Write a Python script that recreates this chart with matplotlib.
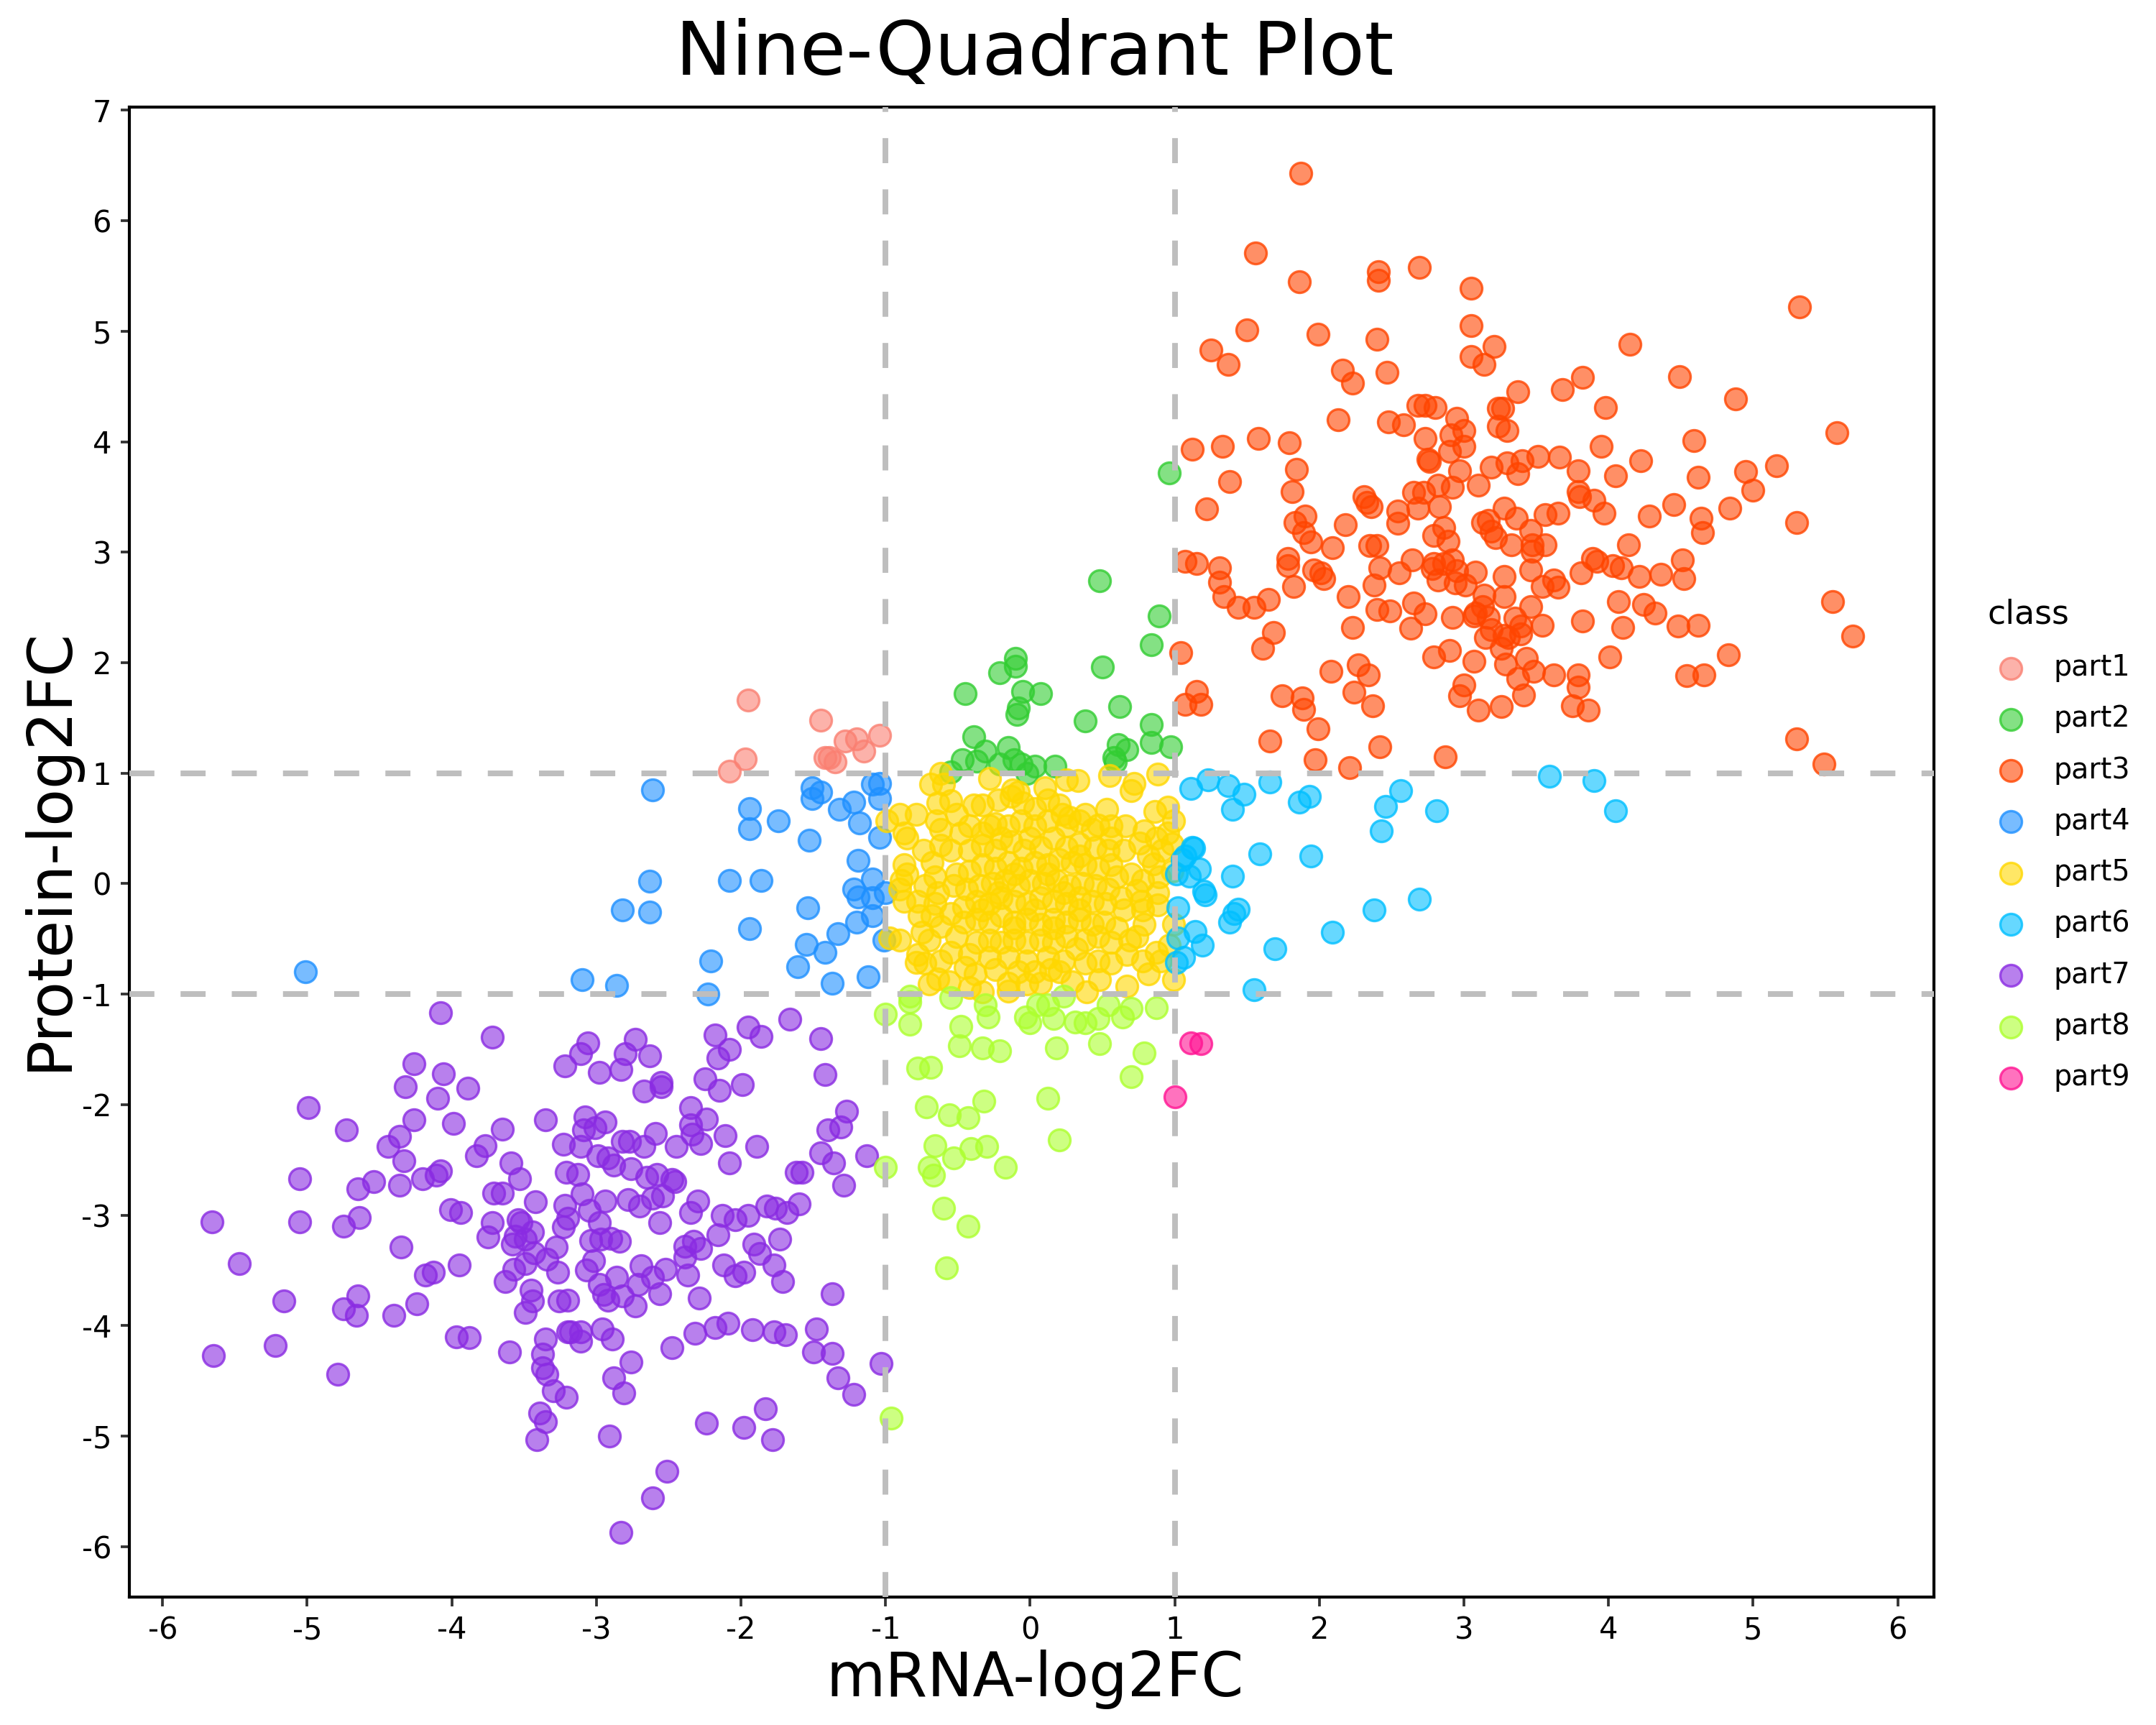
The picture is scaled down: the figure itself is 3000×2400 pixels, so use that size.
import numpy as np
import matplotlib
matplotlib.use("Agg")
import matplotlib.pyplot as plt

plt.rcParams["font.family"] = ["DejaVu Sans"]
plt.rcParams["axes.unicode_minus"] = False

# ==========================
# DATA (mRNA-log2FC, Protein-log2FC)
# ==========================
class_names = ["part1", "part2", "part3", "part4", "part5",
               "part6", "part7", "part8", "part9"]
class_colors = ["#FA8072", "#32CD32", "#FF4500", "#1E90FF", "#FFD700",
                "#00BFFF", "#8A2BE2", "#ADFF2F", "#FF1493"]

part1 = [(-1.45, 1.48), (-1.28, 1.29), (-1.20, 1.31), (-1.15, 1.20), (-1.04, 1.34),
         (-1.42, 1.14), (-1.39, 1.14), (-1.35, 1.10), (-1.95, 1.66), (-1.97, 1.13),
         (-2.08, 1.02)]

part2 = [(-0.10, 2.04), (-0.10, 1.97), (-0.21, 1.91), (-0.45, 1.72), (-0.05, 1.74),
         (0.07, 1.72), (-0.08, 1.59), (-0.09, 1.53), (0.62, 1.60), (0.38, 1.47),
         (-0.39, 1.33), (-0.31, 1.20), (-0.15, 1.23), (-0.47, 1.12), (-0.37, 1.11),
         (-0.21, 1.08), (-0.11, 1.12), (-0.06, 1.08), (0.03, 1.06), (-0.02, 1.00),
         (0.17, 1.06), (-0.55, 1.01), (0.61, 1.26), (0.67, 1.21), (0.58, 1.14),
         (0.59, 1.10), (0.84, 1.28), (0.97, 1.24), (0.96, 3.72), (0.89, 2.42),
         (0.84, 2.16), (0.84, 1.44), (0.48, 2.74), (0.50, 1.96)]

part3 = [(1.87, 6.43), (1.56, 5.71), (1.86, 5.45), (2.41, 5.54), (2.41, 5.46),
         (2.69, 5.58), (3.05, 5.39), (5.32, 5.22), (1.50, 5.01), (1.99, 4.97),
         (2.40, 4.93), (3.05, 5.05), (3.21, 4.86), (1.25, 4.83), (1.37, 4.70),
         (3.05, 4.77), (3.14, 4.70), (4.15, 4.88), (2.16, 4.65), (2.23, 4.53),
         (2.47, 4.63), (3.37, 4.45), (3.68, 4.47), (3.82, 4.58), (4.49, 4.59),
         (4.88, 4.39), (3.98, 4.31), (2.13, 4.20), (2.48, 4.18), (2.58, 4.15),
         (2.68, 4.33), (2.73, 4.33), (2.80, 4.31), (2.95, 4.21), (3.24, 4.30),
         (3.27, 4.30), (3.24, 4.14), (3.30, 4.10), (2.91, 4.06), (3.00, 4.10),
         (2.73, 4.03), (2.90, 3.91), (3.00, 3.96), (5.58, 4.08), (4.59, 4.01),
         (3.95, 3.96), (1.12, 3.93), (1.33, 3.96), (1.58, 4.03), (1.79, 3.99),
         (1.84, 3.75), (1.38, 3.64), (1.81, 3.55), (1.22, 3.39), (2.76, 3.82),
         (2.75, 3.84), (2.97, 3.74), (2.82, 3.61), (2.92, 3.59), (3.10, 3.61),
         (3.19, 3.77), (3.30, 3.81), (3.40, 3.83), (3.51, 3.87), (3.66, 3.86),
         (3.37, 3.71), (3.79, 3.74), (4.22, 3.83), (4.05, 3.69), (4.62, 3.68),
         (4.95, 3.73), (5.16, 3.78), (5.00, 3.56), (3.79, 3.55), (3.80, 3.50),
         (3.90, 3.47), (3.97, 3.35), (4.45, 3.43), (4.28, 3.33), (4.84, 3.40),
         (4.64, 3.31), (4.65, 3.18), (5.30, 3.27), (2.31, 3.50), (2.33, 3.45),
         (2.36, 3.41), (2.65, 3.54), (2.72, 3.54), (2.68, 3.40), (2.83, 3.41),
         (2.54, 3.37), (2.54, 3.26), (2.18, 3.25), (1.83, 3.27), (1.90, 3.33),
         (1.89, 3.18), (1.94, 3.09), (2.09, 3.04), (2.35, 3.06), (2.40, 3.06),
         (2.79, 3.15), (2.86, 3.22), (2.89, 3.10), (3.13, 3.27), (3.17, 3.29),
         (3.19, 3.19), (3.22, 3.13), (3.28, 3.40), (3.36, 3.31), (3.46, 3.20),
         (3.33, 3.07), (3.47, 3.07), (3.47, 3.01), (3.56, 3.34), (3.65, 3.35),
         (3.56, 3.07), (2.64, 2.93), (2.42, 2.86), (2.55, 2.81), (2.78, 2.85),
         (2.79, 2.90), (2.82, 2.75), (2.86, 2.90), (2.92, 2.93), (2.95, 2.83),
         (2.94, 2.72), (3.01, 2.70), (3.08, 2.82), (3.28, 2.78), (3.46, 2.84),
         (3.54, 2.69), (3.62, 2.75), (3.65, 2.68), (3.81, 2.81), (3.89, 2.94),
         (3.92, 2.92), (4.03, 2.88), (4.09, 2.86), (4.14, 3.07), (4.21, 2.78),
         (4.36, 2.80), (4.51, 2.93), (4.52, 2.76), (5.55, 2.55), (5.69, 2.24),
         (1.07, 2.92), (1.15, 2.90), (1.31, 2.86), (1.31, 2.73), (1.34, 2.60),
         (1.44, 2.50), (1.55, 2.50), (1.65, 2.57), (1.78, 2.94), (1.78, 2.88),
         (1.82, 2.69), (1.96, 2.84), (2.01, 2.81), (2.03, 2.76), (2.20, 2.60),
         (2.38, 2.70), (2.40, 2.48), (2.49, 2.47), (2.65, 2.54), (2.73, 2.44),
         (2.63, 2.31), (2.92, 2.41), (2.23, 2.32), (3.08, 2.45), (3.07, 2.42),
         (3.14, 2.61), (3.28, 2.60), (3.13, 2.51), (3.17, 2.41), (3.46, 2.51),
         (3.35, 2.40), (3.39, 2.33), (3.54, 2.34), (3.19, 2.30), (3.15, 2.23),
         (3.28, 2.25), (3.31, 2.23), (3.39, 2.26), (3.26, 2.13), (3.82, 2.38),
         (4.07, 2.55), (4.24, 2.53), (4.32, 2.45), (4.10, 2.32), (4.48, 2.33),
         (4.62, 2.34), (1.68, 2.27), (1.61, 2.13), (1.04, 2.09), (2.08, 1.92),
         (2.27, 1.98), (2.34, 1.89), (2.24, 1.73), (2.37, 1.61), (1.74, 1.70),
         (1.88, 1.68), (1.89, 1.58), (1.99, 1.40), (1.66, 1.29), (1.97, 1.12),
         (2.21, 1.05), (2.42, 1.24), (2.87, 1.15), (2.79, 2.05), (2.90, 2.11),
         (3.07, 2.01), (3.29, 1.99), (3.43, 2.04), (3.48, 1.92), (3.37, 1.86),
         (3.41, 1.71), (3.62, 1.89), (3.79, 1.89), (3.79, 1.78), (4.01, 2.05),
         (4.83, 2.07), (4.54, 1.88), (4.66, 1.89), (3.00, 1.80), (2.97, 1.70),
         (3.10, 1.57), (3.26, 1.60), (3.75, 1.61), (3.86, 1.57), (1.15, 1.74),
         (1.07, 1.62), (1.18, 1.62), (5.30, 1.31), (5.49, 1.08)]

part4 = [(-1.51, 0.87), (-1.45, 0.83), (-1.51, 0.77), (-1.09, 0.90), (-1.04, 0.91),
         (-1.04, 0.77), (-1.22, 0.74), (-1.32, 0.67), (-1.18, 0.55), (-1.53, 0.39),
         (-1.04, 0.42), (-1.19, 0.21), (-1.09, 0.04), (-1.22, -0.05), (-1.19, -0.12),
         (-1.09, -0.13), (-1.00, -0.08), (-1.54, -0.22), (-1.09, -0.29), (-1.20, -0.35),
         (-1.33, -0.45), (-1.55, -0.55), (-1.42, -0.62), (-1.61, -0.75), (-1.37, -0.90),
         (-1.12, -0.84), (-1.01, -0.51), (-1.94, 0.68), (-1.94, 0.50), (-1.74, 0.57),
         (-2.61, 0.85), (-2.63, 0.02), (-2.63, -0.26), (-2.82, -0.24), (-2.08, 0.03),
         (-1.86, 0.03), (-1.94, -0.41), (-2.21, -0.70), (-2.23, -1.00), (-2.86, -0.92),
         (-3.10, -0.87), (-5.01, -0.80)]

part5 = [(-0.62, 1.00), (-0.69, 0.90), (-0.60, 0.90), (-0.28, 0.95), (-0.12, 0.85),
         (-0.08, 0.83), (0.10, 0.87), (0.25, 0.94), (0.33, 0.93), (0.55, 0.98),
         (0.72, 0.91), (0.70, 0.84), (0.88, 0.99), (0.95, 0.69), (0.86, 0.65),
         (0.99, 0.57), (0.95, 0.46), (0.98, 0.36), (0.87, 0.41), (0.91, 0.30),
         (0.79, 0.48), (0.76, 0.37), (0.66, 0.52), (0.53, 0.67), (0.47, 0.53),
         (0.65, 0.30), (0.85, 0.18), (0.89, 0.06), (0.88, -0.08), (0.88, -0.19),
         (0.77, -0.16), (0.74, -0.06), (0.70, 0.09), (0.79, -0.37), (0.74, -0.48),
         (0.99, -0.37), (0.87, -0.62), (0.90, -0.70), (0.82, -0.82), (0.99, -0.87),
         (0.67, -0.93), (0.67, -0.64), (0.56, -0.53), (0.48, -0.87), (0.39, -0.98),
         (0.29, -0.89), (0.38, -0.72), (0.32, -0.59), (0.14, -0.78), (0.07, -0.90),
         (-0.02, -0.91), (-0.15, -0.90), (-0.24, -0.78), (-0.33, -0.98), (-0.38, -0.82),
         (-0.45, -0.76), (-0.56, -0.89), (-0.64, -0.86), (-0.73, -0.72), (-0.79, -0.71),
         (-0.78, -0.64), (-0.70, -0.51), (-0.75, -0.44), (-0.90, -0.51), (-0.97, -0.49),
         (-0.62, -0.39), (-0.51, -0.48), (-0.87, -0.16), (-0.78, -0.16), (-0.66, -0.18),
         (-0.90, -0.05), (-0.99, 0.57), (-0.90, 0.63), (-0.79, 0.63), (-0.87, 0.46),
         (-0.85, 0.41), (-0.74, 0.30), (-0.64, 0.73), (-0.55, 0.75), (-0.65, 0.57),
         (-0.62, 0.49), (-0.51, 0.63), (-0.39, 0.71), (-0.33, 0.71), (-0.22, 0.76),
         (-0.13, 0.79), (-0.05, 0.73), (0.12, 0.76), (0.22, 0.63), (0.27, 0.60),
         (0.43, 0.49), (0.56, 0.52), (-0.87, 0.17), (-0.85, 0.09), (-0.66, 0.06),
         (-0.89, 0.03), (-0.62, 0.35), (-0.55, 0.30), (-0.33, 0.46), (-0.24, 0.54),
         (-0.42, 0.30), (-0.33, 0.35), (-0.24, 0.30), (-0.13, 0.38), (-0.04, 0.30),
         (0.07, 0.33), (0.16, 0.41), (0.25, 0.33), (0.34, 0.36), (0.45, 0.33),
         (0.54, 0.30), (0.56, 0.17), (0.47, 0.14), (0.38, 0.17), (0.29, 0.19),
         (0.20, 0.22), (0.12, 0.17), (0.03, 0.19), (-0.06, 0.14), (-0.15, 0.19),
         (-0.24, 0.14), (-0.33, 0.17), (-0.42, 0.11), (-0.51, 0.09), (-0.53, -0.02),
         (-0.44, -0.05), (-0.35, -0.02), (-0.26, 0.00), (-0.17, 0.03), (-0.08, -0.02),
         (0.00, 0.03), (0.09, 0.00), (0.18, 0.03), (0.27, -0.02), (0.36, 0.00),
         (0.45, -0.02), (0.54, -0.05), (0.60, 0.06), (0.63, -0.13), (0.52, -0.18),
         (0.43, -0.16), (0.34, -0.13), (0.25, -0.18), (0.16, -0.16), (0.07, -0.13),
         (-0.02, -0.18), (-0.11, -0.16), (-0.20, -0.13), (-0.28, -0.18), (-0.37, -0.16),
         (-0.46, -0.21), (-0.55, -0.27), (-0.46, -0.35), (-0.37, -0.32), (-0.28, -0.35),
         (-0.20, -0.29), (-0.11, -0.35), (-0.02, -0.32), (0.07, -0.37), (0.16, -0.32),
         (0.25, -0.35), (0.34, -0.32), (0.43, -0.37), (0.51, -0.35), (0.60, -0.40),
         (0.47, -0.48), (0.38, -0.51), (0.25, -0.48), (0.16, -0.53), (0.07, -0.51),
         (-0.02, -0.53), (-0.11, -0.51), (-0.20, -0.53), (-0.28, -0.51), (-0.37, -0.53),
         (-0.42, -0.64), (-0.28, -0.67), (-0.15, -0.67), (-0.02, -0.70), (0.12, -0.67),
         (0.23, -0.70), (0.47, -0.70), (0.56, -0.72), (-0.55, -0.62), (-0.62, -0.70),
         (-0.48, 0.46), (-0.42, 0.52), (-0.15, 0.52), (-0.06, 0.57), (0.03, 0.52),
         (0.12, 0.57), (0.25, 0.52), (0.34, 0.57), (0.03, 0.68), (0.20, 0.71),
         (0.38, 0.63), (0.56, 0.41), (-0.68, 0.19), (-0.73, -0.02), (-0.64, -0.08),
         (-0.77, -0.29), (-0.68, -0.29), (0.78, 0.03), (0.78, -0.24), (0.65, -0.24),
         (0.69, -0.51), (0.78, -0.70), (0.96, -0.56), (0.82, 0.25), (0.98, 0.11),
         (0.03, -0.80), (-0.08, -0.80), (0.20, -0.80), (-0.15, -0.97), (-0.42, -0.94),
         (-0.70, -0.91), (-0.28, 0.52), (-0.20, 0.41), (0.00, 0.41), (0.34, 0.25),
         (-0.11, 0.09), (0.12, 0.09), (0.23, -0.08), (-0.22, -0.08), (0.03, -0.24),
         (0.16, -0.40), (-0.11, -0.40), (0.34, -0.24), (-0.33, -0.24)]

part6 = [(1.11, 0.86), (1.23, 0.94), (1.37, 0.89), (1.48, 0.81), (1.66, 0.92),
         (1.40, 0.67), (1.86, 0.74), (1.93, 0.79), (2.56, 0.84), (2.46, 0.70),
         (2.43, 0.48), (2.81, 0.66), (3.59, 0.97), (3.90, 0.93), (4.05, 0.66),
         (1.13, 0.32), (1.59, 0.27), (1.94, 0.25), (1.07, 0.25), (1.12, 0.33),
         (1.05, 0.22), (1.17, 0.13), (1.10, 0.07), (1.01, 0.09), (1.40, 0.07),
         (1.21, -0.10), (1.02, -0.22), (1.44, -0.23), (1.41, -0.27), (1.38, -0.35),
         (1.14, -0.43), (1.02, -0.49), (1.19, -0.56), (1.06, -0.67), (1.01, -0.71),
         (1.69, -0.59), (1.55, -0.96), (2.09, -0.44), (2.38, -0.24), (2.69, -0.14),
         (1.20, -0.07)]

part7 = [(-4.08, -1.17), (-3.72, -1.39), (-4.26, -1.63), (-4.06, -1.72), (-4.32, -1.84),
         (-4.10, -1.94), (-3.89, -1.85), (-4.99, -2.03), (-4.26, -2.14), (-4.73, -2.23),
         (-3.99, -2.17), (-3.65, -2.22), (-3.35, -2.14), (-4.36, -2.29), (-4.44, -2.38),
         (-4.33, -2.51), (-3.83, -2.46), (-3.77, -2.37), (-3.59, -2.53), (-3.53, -2.67),
         (-4.08, -2.60), (-4.11, -2.64), (-4.20, -2.67), (-4.36, -2.73), (-4.54, -2.70),
         (-4.65, -2.76), (-5.05, -2.67), (-5.66, -3.06), (-5.05, -3.06), (-4.75, -3.10),
         (-4.64, -3.02), (-4.35, -3.29), (-4.01, -2.95), (-3.94, -2.98), (-3.71, -2.80),
         (-3.65, -2.80), (-3.42, -2.88), (-3.72, -3.07), (-3.75, -3.20), (-3.54, -3.04),
         (-3.52, -3.07), (-3.56, -3.19), (-3.58, -3.26), (-3.49, -3.22), (-3.44, -3.15),
         (-3.43, -3.34), (-3.49, -3.44), (-3.57, -3.49), (-3.63, -3.60), (-3.45, -3.68),
         (-3.44, -3.78), (-3.49, -3.88), (-3.34, -3.40), (-3.27, -3.52), (-3.28, -3.29),
         (-3.23, -3.11), (-3.20, -3.03), (-3.22, -2.91), (-3.21, -2.61), (-3.13, -2.63),
         (-3.23, -2.36), (-3.11, -2.38), (-3.08, -2.11), (-3.01, -2.21), (-2.94, -2.16),
         (-2.98, -1.71), (-3.11, -1.54), (-3.06, -1.44), (-3.22, -1.65), (-2.83, -1.68),
         (-2.80, -1.54), (-2.73, -1.41), (-2.63, -1.56), (-2.67, -1.88), (-2.55, -1.80),
         (-2.55, -1.84), (-3.10, -2.81), (-3.05, -2.96), (-2.98, -3.07), (-2.94, -2.87),
         (-2.99, -2.46), (-2.92, -2.48), (-2.88, -2.55), (-2.76, -2.58), (-2.82, -2.33),
         (-2.77, -2.33), (-2.67, -2.38), (-2.59, -2.26), (-2.45, -2.38), (-2.65, -2.66),
         (-2.58, -2.63), (-2.48, -2.68), (-2.46, -2.70), (-2.78, -2.86), (-2.70, -2.92),
         (-2.61, -2.85), (-2.56, -3.07), (-2.54, -2.83), (-3.04, -3.23), (-2.97, -3.22),
         (-2.90, -3.21), (-2.84, -3.24), (-3.02, -3.41), (-3.07, -3.50), (-2.98, -3.63),
         (-2.95, -3.72), (-2.92, -3.77), (-2.86, -3.56), (-2.82, -3.73), (-2.73, -3.82),
         (-2.69, -3.46), (-2.71, -3.63), (-2.61, -3.56), (-2.56, -3.71), (-2.52, -3.49),
         (-3.20, -3.77), (-3.09, -2.23), (-2.35, -2.03), (-2.25, -1.77), (-2.18, -1.37),
         (-2.16, -1.58), (-2.08, -1.50), (-2.15, -1.87), (-1.99, -1.82), (-1.95, -1.30),
         (-1.86, -1.38), (-1.66, -1.23), (-1.45, -1.40), (-1.42, -1.73), (-2.35, -2.18),
         (-2.24, -2.13), (-2.34, -2.27), (-2.28, -2.35), (-2.11, -2.28), (-1.89, -2.38),
         (-2.08, -2.53), (-1.40, -2.23), (-1.31, -2.20), (-1.27, -2.06), (-1.45, -2.44),
         (-1.36, -2.53), (-1.13, -2.46), (-1.29, -2.73), (-1.62, -2.61), (-1.58, -2.61),
         (-2.35, -2.98), (-2.30, -2.87), (-2.13, -3.00), (-2.04, -3.04), (-1.95, -3.00),
         (-1.82, -2.92), (-1.76, -2.94), (-1.68, -2.98), (-1.60, -2.90), (-2.39, -3.28),
         (-2.33, -3.24), (-2.28, -3.30), (-2.16, -3.18), (-2.39, -3.38), (-2.12, -3.45),
         (-2.04, -3.55), (-1.98, -3.52), (-1.91, -3.26), (-1.87, -3.35), (-1.73, -3.22),
         (-1.77, -3.45), (-1.71, -3.60), (-2.37, -3.54), (-2.29, -3.75), (-1.37, -3.71),
         (-2.32, -4.07), (-2.18, -4.02), (-2.09, -3.98), (-1.92, -4.04), (-1.77, -4.06),
         (-1.69, -4.08), (-1.48, -4.03), (-1.50, -4.24), (-1.37, -4.25), (-1.33, -4.47),
         (-1.22, -4.62), (-1.03, -4.34), (-2.48, -4.20), (-2.76, -4.33), (-2.88, -4.47),
         (-2.81, -4.61), (-3.18, -4.06), (-3.20, -4.06), (-3.11, -4.14), (-3.11, -4.06),
         (-2.96, -4.03), (-2.89, -4.12), (-3.35, -4.12), (-3.37, -4.26), (-3.37, -4.38),
         (-3.34, -4.44), (-3.30, -4.59), (-3.21, -4.65), (-3.60, -4.24), (-3.39, -4.79),
         (-3.35, -4.87), (-3.41, -5.03), (-2.91, -5.00), (-2.24, -4.88), (-1.98, -4.92),
         (-1.83, -4.75), (-1.78, -5.03), (-2.51, -5.32), (-2.61, -5.56), (-2.83, -5.87),
         (-3.97, -4.10), (-3.88, -4.11), (-4.40, -3.91), (-4.24, -3.80), (-4.65, -3.73),
         (-4.75, -3.85), (-4.66, -3.91), (-5.16, -3.78), (-5.22, -4.18), (-5.65, -4.27),
         (-5.47, -3.44), (-4.79, -4.44), (-4.18, -3.54), (-4.13, -3.52), (-3.95, -3.45),
         (-3.26, -3.78)]

part8 = [(-0.83, -1.02), (-0.83, -1.07), (-1.00, -1.18), (-0.83, -1.27), (-0.55, -1.03),
         (-0.48, -1.29), (-0.31, -1.10), (-0.29, -1.21), (-0.49, -1.47), (-0.33, -1.49),
         (-0.21, -1.51), (-0.78, -1.67), (-0.69, -1.66), (-0.03, -1.21), (0.00, -1.26),
         (0.05, -1.10), (0.12, -1.10), (0.16, -1.22), (0.23, -1.02), (0.31, -1.25),
         (0.38, -1.26), (0.47, -1.22), (0.54, -1.10), (0.64, -1.21), (0.70, -1.13),
         (0.87, -1.12), (0.18, -1.49), (0.48, -1.45), (0.79, -1.53), (0.70, -1.75),
         (-1.00, -2.57), (-0.96, -4.84), (-0.72, -2.02), (-0.56, -2.09), (-0.32, -1.97),
         (-0.43, -2.12), (-0.66, -2.37), (-0.53, -2.48), (-0.30, -2.38), (-0.41, -2.40),
         (-0.17, -2.57), (-0.70, -2.57), (-0.67, -2.64), (-0.60, -2.94), (-0.43, -3.10),
         (-0.58, -3.48), (0.12, -1.94), (0.20, -2.32)]

part9 = [(1.11, -1.44), (1.18, -1.45), (1.00, -1.93)]

parts = [part1, part2, part3, part4, part5, part6, part7, part8, part9]

x_cut = [-1, 1]
y_cut = [-1, 1]
x_ticks = list(range(-6, 7))
y_ticks = list(range(-6, 8))


# ==========================
# CHART
# ==========================
fig = plt.figure(figsize=(10, 8), dpi=300)
ax = fig.add_axes([0.060, 0.074, 0.837, 0.864])

for name, color, pts in zip(class_names, class_colors, parts):
    pts = np.array(pts)
    ax.scatter(pts[:, 0], pts[:, 1], s=52,
               facecolor=matplotlib.colors.to_rgba(color, 0.6),
               edgecolor=matplotlib.colors.to_rgba(color, 0.8),
               linewidth=0.8, label=name, zorder=2)

for v in x_cut:
    ax.axvline(v, color="#BEBEBE", lw=1.9, ls=(0, (4.4, 4.6)), zorder=3)
for h in y_cut:
    ax.axhline(h, color="#BEBEBE", lw=1.9, ls=(0, (4.4, 4.6)), zorder=3)

ax.set_xlim(-6.23, 6.25)
ax.set_ylim(-6.46, 7.03)
ax.set_xticks(x_ticks)
ax.set_yticks(y_ticks)
ax.tick_params(direction="out", length=3, width=0.9, color="#333333",
               labelsize=10, labelcolor="black", pad=3)
for sp in ax.spines.values():
    sp.set_linewidth(1.0)
    sp.set_color("black")

fig.text(0.480, 0.9567, "Nine-Quadrant Plot", fontsize=25,
         ha="center", va="baseline")
fig.text(0.480, 0.0167, "mRNA-log2FC", fontsize=20.3, ha="center", va="baseline")
fig.text(0.031, 0.5076, "Protein-log2FC", fontsize=20.3, ha="center",
         va="baseline", rotation=90, rotation_mode="anchor")

leg = ax.legend(loc="upper left", bbox_to_anchor=(0.9217, 0.653),
                bbox_transform=fig.transFigure, frameon=False,
                title="class", title_fontsize=11, fontsize=9.5,
                handlelength=1.66, handletextpad=0.68, labelspacing=0.79,
                borderpad=0, borderaxespad=0, alignment="left")

fig.savefig("out.png", dpi=300)
